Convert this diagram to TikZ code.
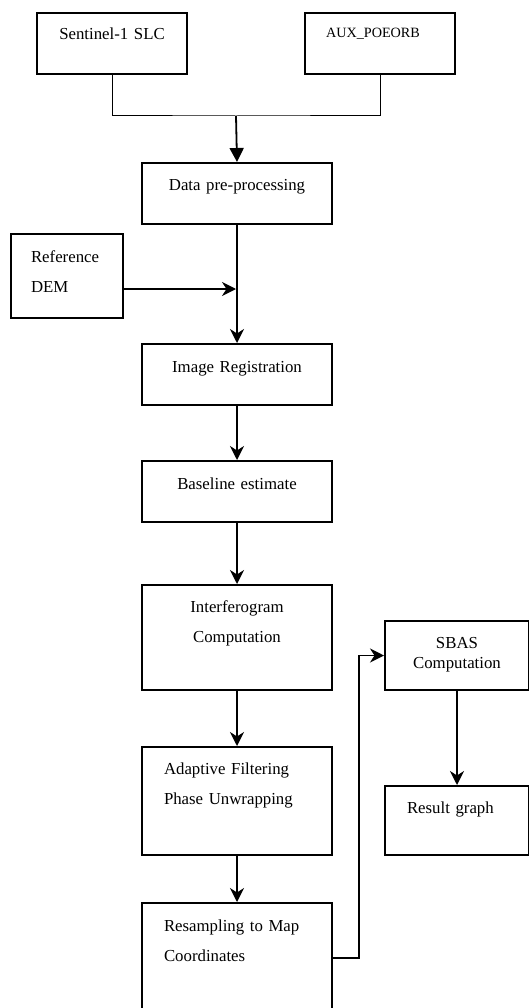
\documentclass[tikz,border=0pt]{standalone}
\usepackage{fontspec}
\setmainfont{Liberation Serif}
\usetikzlibrary{arrows.meta}

\begin{document}
\begin{tikzpicture}[
    x=1pt, y=-1pt,
    box/.style={rectangle, draw, line width=2pt, anchor=north west, inner xsep=0pt, inner ysep=0pt, font=\fontsize{16.8}{20}\selectfont},
    mainbox/.style={box, text width=190pt, align=center},
    leftbox/.style={box, inner xsep=22pt, text width=146pt, align=left},
    arrow/.style={-{Stealth[length=14pt, width=14pt, inset=4.5pt]}, line width=1.8pt},
    joinline/.style={line width=1pt}
]
\useasboundingbox (0,0) rectangle (529,1008);

% inputs
\node[box, text width=150pt, align=center, text height=27pt, text depth=34pt] (slc) at (36,12) {Sentinel-1 SLC};
\node[box, inner xsep=21pt, text width=108pt, align=left, text height=25pt, text depth=36pt, font=\fontsize{14.2}{17}\selectfont] (aux) at (304,12) {AUX\_POEORB};
\node[box, inner xsep=20pt, text width=72pt, align=left, text height=28pt, text depth=56pt] (dem) at (10,233) {Reference\\[10pt]DEM};

% main chain
\node[mainbox, text height=28pt, text depth=33pt] (data) at (141,162) {Data pre-processing};
\node[mainbox, text height=28pt, text depth=33pt] (imreg) at (141,343) {Image Registration};
\node[mainbox, text height=28pt, text depth=33pt] (base) at (141,460) {Baseline estimate};
\node[mainbox, text height=27pt, text depth=78pt] (ifg) at (141,584) {Interferogram\\[10pt]Computation};
\node[leftbox, text height=27pt, text depth=81pt] (adf) at (141,746) {Adaptive Filtering\\[10pt]Phase Unwrapping};
\node[leftbox, text height=28pt, text depth=82pt] (res) at (141,902) {Resampling to Map\\[10pt]Coordinates};

% time series
\node[box, text width=144pt, align=center, text height=27pt, text depth=42pt] (sbas) at (384,620) {SBAS\\Computation};
\node[box, inner xsep=22pt, text width=100pt, align=left, text height=27pt, text depth=42pt] (result) at (384,785) {Result graph};

\coordinate (merge) at (236,116);
\coordinate (demjoin) at (236,289);

\draw[joinline] (slc.south) |- (merge) -| (aux.south);
\draw[-{Triangle[length=14pt, width=14pt]}, line width=1.8pt] (merge) -- (data.north);
\draw[arrow] (data.south) -- (imreg.north);
\draw[arrow] (dem.east |- demjoin) -- (demjoin);
\draw[arrow] (imreg.south) -- (base.north);
\draw[arrow] (base.south) -- (ifg.north);
\draw[arrow] (ifg.south) -- (adf.north);
\draw[arrow] (adf.south) -- (res.north);
\draw[arrow] (res.east) -- ++(26,0) |- (sbas.west);
\draw[arrow] (sbas.south) -- (result.north);
\end{tikzpicture}
\end{document}
